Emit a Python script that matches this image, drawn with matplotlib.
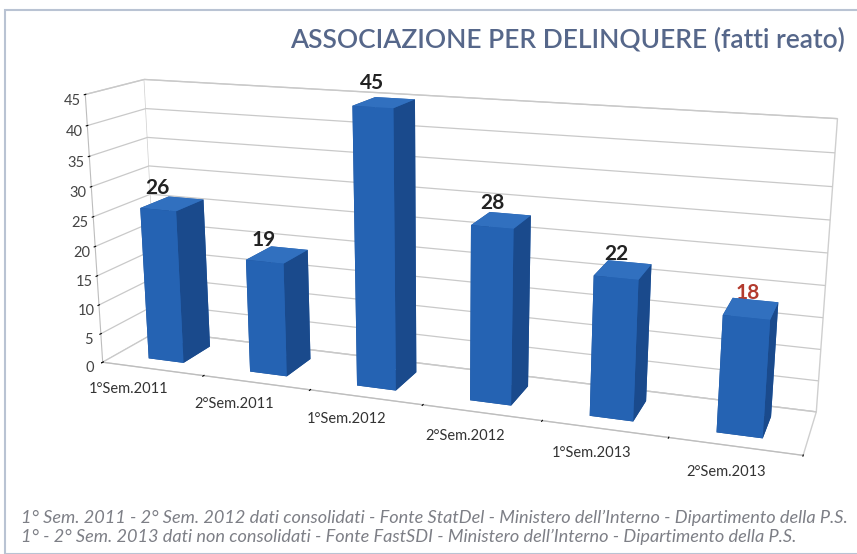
import numpy as np
import matplotlib.pyplot as plt
from matplotlib.patches import Rectangle

plt.rcParams['font.family'] = ['Lato', 'DejaVu Sans']

categories = ["1°Sem.2011", "2°Sem.2011", "1°Sem.2012", "2°Sem.2012", "1°Sem.2013", "2°Sem.2013"]
values = [26, 19, 45, 28, 22, 18]
label_colors = ["#222222"] * 5 + ["#b33b2e"]
zticks = list(range(0, 50, 5))

title = "ASSOCIAZIONE PER DELINQUERE (fatti reato)"
notes = [
    "1° Sem. 2011 - 2° Sem. 2012 dati consolidati - Fonte StatDel - Ministero dell’Interno - Dipartimento della P.S.",
    "1° - 2° Sem. 2013 dati non consolidati - Fonte FastSDI - Ministero dell’Interno - Dipartimento della P.S.",
]

# face colours: bottom, top, front, back, left, right
face_cols = ["#1b4f95", "#3170bf", "#2563b3", "#2563b3", "#1d5299", "#1a4a8c"]

fig = plt.figure(figsize=(8.57, 5.54), dpi=100)
fig.patches.append(Rectangle((0.006, 0.0), 1.2, 0.982, transform=fig.transFigure,
                             fill=False, ec="#b9c3d3", lw=1.5))

# square 3d axes centred on the view point
ax = fig.add_axes([0.2311, 0.1083, 0.5554, 0.8592], projection='3d')
ax.set_proj_type('persp', focal_length=0.556)
ax.view_init(elev=15, azim=-70)

n = len(values)
w, d = 0.35, 0.51
for i, v in enumerate(values):
    bars = ax.bar3d(i + 0.5 - w / 2, 0.5 - d / 2, 0, w, d, v, color=face_cols,
                    shade=False, edgecolor="none")
    bars.set_clip_on(False)
    ax.text(i + 0.5, 0.5 - d / 2, v + 3.6, str(v), ha='center', va='center',
            fontsize=15, fontweight='bold', color=label_colors[i], clip_on=False)
    ax.text(i + 0.5, -0.42, -0.9, categories[i], ha='center', va='center',
            fontsize=10.5, color="#333333", clip_on=False)

ax.set_xlim(0, n)
ax.set_ylim(0, 1)
ax.set_zlim(0, 45)
ax.set_box_aspect((2.72, 0.42, 1.07), zoom=1.63)

ax.set_xticks(np.arange(n + 1))
ax.set_xticklabels([])
ax.set_yticks([])
ax.set_zticks(zticks)
ax.set_zticklabels([str(t) for t in zticks], fontsize=10.5, color="#444444")
ax.zaxis.set_ticks_position('lower')
ax.zaxis.set_tick_params(pad=-4.5)

for axis in (ax.xaxis, ax.yaxis, ax.zaxis):
    axis.set_pane_color((1, 1, 1, 1))
    axis.pane.set_edgecolor("#cfcfcf")
    axis.line.set_color("#bdbdbd")
    axis._axinfo['grid']['color'] = "#c9c9c9"
    axis._axinfo['grid']['linewidth'] = 0.9
ax.xaxis._axinfo['grid']['linewidth'] = 0
ax.yaxis._axinfo['grid']['linewidth'] = 0
ax.yaxis.line.set_color((1, 1, 1, 0))

fig.text(0.986, 0.928, title, ha='right', va='center', fontsize=19,
         fontweight='semibold', color="#56678a")
fig.text(0.025, 0.066, notes[0], ha='left', va='center', fontsize=13.1,
         style='italic', color="#7d7f86")
fig.text(0.025, 0.03, notes[1], ha='left', va='center', fontsize=13.1,
         style='italic', color="#7d7f86")

fig.savefig("out.png", dpi=100)
